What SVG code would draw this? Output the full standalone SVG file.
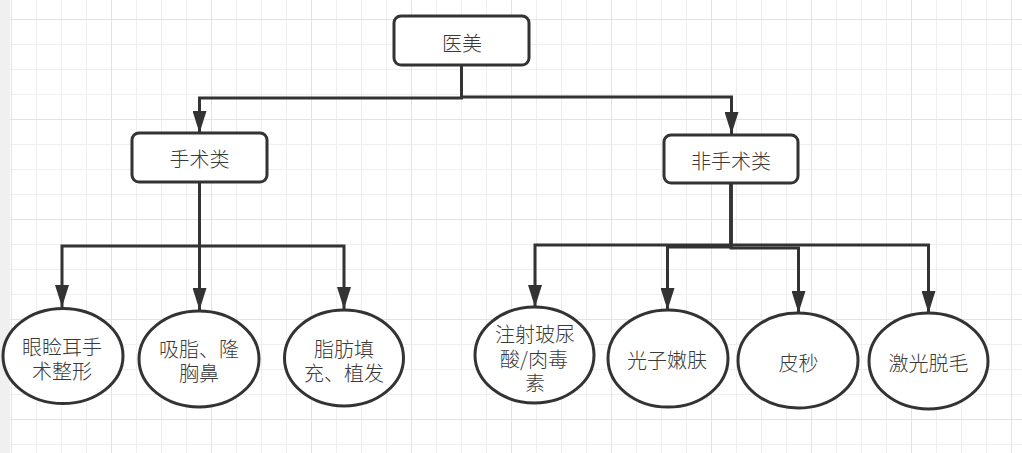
<svg xmlns="http://www.w3.org/2000/svg" width="1022" height="453" viewBox="0 0 1022 453">
  <defs>
    <pattern id="grid" x="11" y="19" width="100" height="100" patternUnits="userSpaceOnUse">
      <path d="M25.5,0V100M50.5,0V100M75.5,0V100M0,25.5H100M0,50.5H100M0,75.5H100" stroke="#efefef" stroke-width="1" fill="none"/>
      <path d="M0.5,0V100M0,0.5H100" stroke="#e3e3e3" stroke-width="1" fill="none"/>
    </pattern>
    <marker id="arrow" viewBox="0 0 22 14" refX="22" refY="7" markerWidth="22" markerHeight="14" markerUnits="userSpaceOnUse" orient="auto">
      <path d="M0,0L22,7L0,14Z" fill="#333"/>
    </marker>
  </defs>
  <style>
    .box { fill: #ffffff; stroke: #333333; stroke-width: 3; }
    .edge { fill: none; stroke: #333333; stroke-width: 3; marker-end: url(#arrow); }
    .lbl { font-family: "Noto Sans CJK SC", "Noto Sans", sans-serif; font-size: 20px; font-weight: 300; fill: #3a3a3a; text-anchor: middle; dominant-baseline: central; }
  </style>
  <rect x="0" y="0" width="1022" height="453" fill="#ffffff"/>
  <rect x="0" y="0" width="1022" height="453" fill="url(#grid)"/>
  <rect x="0" y="0" width="10" height="453" fill="#f0f0f0"/>

  <g id="connectors">
    <path class="edge" d="M461.5,65 V98 H199.5 V133"/>
    <path class="edge" d="M461.5,65 V97 H731.5 V134"/>
    <path class="edge" d="M199.5,182 V246 H62 V307"/>
    <path class="edge" d="M199.5,182 V310"/>
    <path class="edge" d="M199.5,182 V246 H344 V309"/>
    <path class="edge" d="M731,183 V245 H535 V307"/>
    <path class="edge" d="M731,183 V247 H667.5 V310"/>
    <path class="edge" d="M731,183 V248 H798.5 V313"/>
    <path class="edge" d="M731,183 V245 H928.5 V313"/>
  </g>

  <g id="node-yimei">
    <rect class="box" x="394" y="16" width="135" height="49" rx="7"/>
    <text class="lbl" x="462" y="42">医美</text>
  </g>
  <g id="node-shoushu">
    <rect class="box" x="132" y="133" width="135" height="49" rx="7"/>
    <text class="lbl" x="199.5" y="158">手术类</text>
  </g>
  <g id="node-feishoushu">
    <rect class="box" x="664" y="135" width="134" height="48" rx="7"/>
    <text class="lbl" x="731" y="160">非手术类</text>
  </g>

  <g id="node-yanjian">
    <ellipse class="box" cx="63" cy="356" rx="60" ry="47.5"/>
    <text class="lbl"><tspan x="62" y="346">眼睑耳手</tspan><tspan x="62" y="370">术整形</tspan></text>
  </g>
  <g id="node-xizhi">
    <ellipse class="box" cx="199" cy="359" rx="60" ry="48"/>
    <text class="lbl"><tspan x="199" y="348">吸脂、隆</tspan><tspan x="199" y="371.5">胸鼻</tspan></text>
  </g>
  <g id="node-zhifang">
    <ellipse class="box" cx="344" cy="358" rx="59.5" ry="48"/>
    <text class="lbl"><tspan x="344" y="347.5">脂肪填</tspan><tspan x="344" y="371.5">充、植发</tspan></text>
  </g>
  <g id="node-zhushe">
    <ellipse class="box" cx="534.5" cy="355" rx="59.5" ry="48"/>
    <text class="lbl"><tspan x="535" y="333">注射玻尿</tspan><tspan x="534" y="358">酸/肉毒</tspan><tspan x="535" y="382">素</tspan></text>
  </g>
  <g id="node-guangzi">
    <ellipse class="box" cx="668" cy="358.5" rx="60" ry="48.5"/>
    <text class="lbl" x="667" y="359">光子嫩肤</text>
  </g>
  <g id="node-pimiao">
    <ellipse class="box" cx="798" cy="360.5" rx="60" ry="47.5"/>
    <text class="lbl" x="798.5" y="362.5">皮秒</text>
  </g>
  <g id="node-jiguang">
    <ellipse class="box" cx="928.5" cy="361" rx="59.5" ry="48"/>
    <text class="lbl" x="928.5" y="362.5">激光脱毛</text>
  </g>
</svg>
